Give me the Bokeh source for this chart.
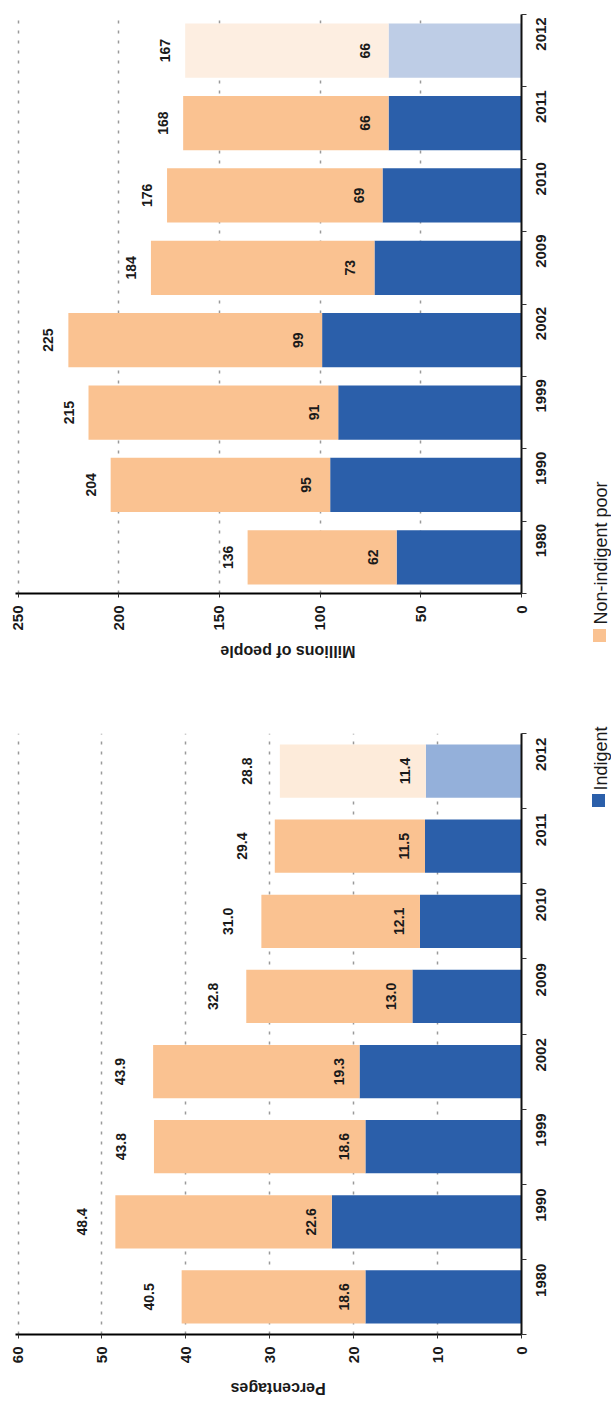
import math
from bokeh.plotting import figure
from bokeh.models import Range1d, FixedTicker, ColumnDataSource
from bokeh.layouts import column, row
from bokeh.embed import file_html
from bokeh.resources import INLINE
from bokeh.core.properties import value

# ---------------- data ----------------
years = ["1980", "1990", "1999", "2002", "2009", "2010", "2011", "2012"]
projected_years = ["2012"]

pct_indigent = [18.6, 22.6, 18.6, 19.3, 13.0, 12.1, 11.5, 11.4]
pct_total = [40.5, 48.4, 43.8, 43.9, 32.8, 31.0, 29.4, 28.8]
pct_ticks = [0, 10, 20, 30, 40, 50, 60]

mil_indigent = [62, 95, 91, 99, 73, 69, 66, 66]
mil_total = [136, 204, 215, 225, 184, 176, 168, 167]
mil_ticks = [0, 50, 100, 150, 200, 250]

legend_labels = ["Non-indigent poor", "Indigent"]

# ---------------- styles ----------------
FONT = "Liberation Sans"
ORANGE = "#FAC291"
BLUE = "#2B5FAA"
TXT = "#1a1a1a"


def panel(indigent, total, ticks, fmt, light_orange, light_blue,
          width, height, borders, bar_h, in_off, out_off):
    n = len(years)
    pos = list(range(1, n + 1))
    p = figure(width=width, height=height, output_backend="svg",
               toolbar_location=None,
               x_range=Range1d(max(ticks) * 1.005, 0), y_range=Range1d(0.5, n + 0.5),
               y_axis_location="right",
               min_border_left=borders[0], min_border_right=borders[1],
               min_border_top=borders[2], min_border_bottom=borders[3])
    p.outline_line_color = None
    p.background_fill_color = "white"
    p.border_fill_color = "white"

    proj = [y in projected_years for y in years]
    src = ColumnDataSource(dict(
        y=pos, ind=indigent, tot=total,
        ind_col=[light_blue if f else BLUE for f in proj],
        non_col=[light_orange if f else ORANGE for f in proj],
        ind_lab=[fmt(v) for v in indigent],
        tot_lab=[fmt(v) for v in total],
    ))
    p.hbar(y="y", left=0, right="ind", height=bar_h, fill_color="ind_col",
           line_color=None, source=src)
    p.hbar(y="y", left="ind", right="tot", height=bar_h, fill_color="non_col",
           line_color=None, source=src)
    common = dict(angle=math.pi / 2, text_align="center", text_baseline="middle",
                  text_font=value(FONT), text_font_style="bold",
                  text_font_size="14px", text_color=TXT, source=src)
    p.text(x="ind", y="y", text="ind_lab", x_offset=-in_off, **common)
    p.text(x="tot", y="y", text="tot_lab", x_offset=-out_off, **common)

    # value axis (below)
    xa = p.xaxis[0]
    xa.ticker = FixedTicker(ticks=ticks)
    xa.major_label_orientation = math.pi / 2
    xa.major_tick_out = 4
    xa.major_tick_in = 0
    xa.minor_tick_out = 0
    xa.minor_tick_in = 0
    xa.axis_line_width = 2
    xa.axis_line_color = "black"
    xa.major_tick_line_color = "#333333"
    xa.major_label_standoff = 8
    xa.major_label_text_font = FONT
    xa.major_label_text_font_style = "bold"
    xa.major_label_text_font_size = "15px"
    xa.major_label_text_color = TXT

    # category axis (right)
    ya = p.yaxis[0]
    ya.ticker = FixedTicker(ticks=pos, minor_ticks=[i + 0.5 for i in range(0, n + 1)])
    ya.major_label_overrides = {i: y for i, y in zip(pos, years)}
    ya.major_label_orientation = math.pi / 2
    ya.major_tick_out = 0
    ya.major_tick_in = 0
    ya.minor_tick_out = 5
    ya.minor_tick_in = 0
    ya.minor_tick_line_color = "#333333"
    ya.axis_line_width = 2
    ya.axis_line_color = "#111111"
    ya.major_label_standoff = 14
    ya.major_label_text_font = FONT
    ya.major_label_text_font_style = "bold"
    ya.major_label_text_font_size = "15px"
    ya.major_label_text_color = TXT

    p.xgrid.ticker = FixedTicker(ticks=[t for t in ticks if t != 0])
    p.xgrid.grid_line_color = "#9a9a9a"
    p.xgrid.grid_line_dash = "3 7"
    p.xgrid.grid_line_width = 1.5
    p.ygrid.visible = False
    return p


def title_strip(p, text, width, height, borders, title_x, title_y):
    t = figure(width=width, height=height, output_backend="svg",
               toolbar_location=None, x_range=p.x_range,
               y_range=Range1d(0, height),
               x_axis_location=None, y_axis_location=None,
               min_border_left=borders[0], min_border_right=borders[1],
               min_border_top=0, min_border_bottom=0)
    t.outline_line_color = None
    t.grid.visible = False
    t.text(x=[title_x], y=[title_y], text=[text], angle=math.pi,
           text_align="center", text_baseline="middle",
           text_font=value(FONT), text_font_style="bold",
           text_font_size="16px", text_color=TXT)
    return t


p1 = panel(mil_indigent, mil_total, mil_ticks, lambda v: f"{v:d}",
           "#FDEEE1", "#BECDE6",
           width=576, height=640, borders=(15, 48, 14, 47), bar_h=0.75,
           in_off=24, out_off=20)
t1 = title_strip(p1, "Millions of people", 576, 60, (15, 48), 116, 49)

p2 = panel(pct_indigent, pct_total, pct_ticks, lambda v: f"{v:.1f}",
           "#FDEBDA", "#94B0DA",
           width=576, height=675, borders=(15, 55, 33, 41), bar_h=0.71,
           in_off=21, out_off=33)
t2 = title_strip(p2, "Percentages", 576, 26, (15, 55), 29, 13)

# ---------------- legend strip ----------------
pleg = figure(width=35, height=1401, output_backend="svg", toolbar_location=None,
              x_range=Range1d(576, 611), y_range=Range1d(0, 1401),
              x_axis_location=None, y_axis_location=None, min_border=0)
pleg.outline_line_color = None
pleg.grid.visible = False
leg_src = ColumnDataSource(dict(
    sx=[599, 598], sy=[1401 - 635, 1401 - 800],
    tx=[600, 600], ty=[1401 - 624, 1401 - 790],
    label=legend_labels, color=[ORANGE, BLUE]))
pleg.rect(x="sx", y="sy", width=13, height=13, width_units="screen",
          height_units="screen", fill_color="color", line_color=None, source=leg_src)
pleg.text(x="tx", y="ty", text="label", angle=math.pi / 2, text_align="left",
          text_baseline="middle", text_font=value(FONT), text_font_size="18px",
          text_color=TXT, source=leg_src)

layout = row(column(p1, t1, p2, t2), pleg)
open("out.html", "w").write(file_html(layout, INLINE))
